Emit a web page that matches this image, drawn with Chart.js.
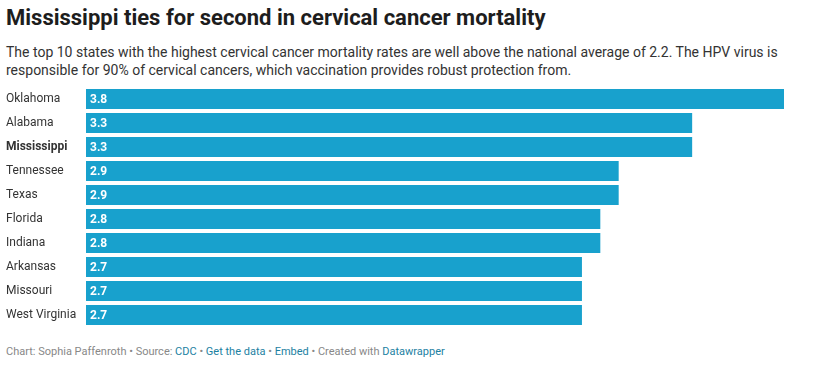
<!DOCTYPE html>
<html><head><meta charset="utf-8">
<script src="https://cdn.jsdelivr.net/npm/chart.js@4"></script>
<style>
html,body{margin:0;padding:0;background:#fff;width:835px;height:389px;overflow:hidden;font-family:Roboto,"Noto Sans",sans-serif;}
#title{position:absolute;left:6px;top:5px;font-size:22px;font-weight:700;color:#1d1d1d;white-space:nowrap;}
#sub{position:absolute;left:6px;top:43px;font-size:14px;line-height:18px;color:#333;width:800px;}
#wrap{position:absolute;left:0;top:87px;width:835px;height:240px;}
#foot{position:absolute;left:6px;top:345px;font-size:11px;color:#888;white-space:nowrap;}
#foot a{color:#1d81a2;text-decoration:none;}
</style></head><body>
<div id="title">Mississippi ties for second in cervical cancer mortality</div>
<div id="sub">The top 10 states with the highest cervical cancer mortality rates are well above the national average of 2.2. The HPV virus is responsible for 90% of cervical cancers, which vaccination provides robust protection from.</div>
<div id="wrap"><canvas id="c"></canvas></div>
<div id="foot">Chart: Sophia Paffenroth • Source: <a>CDC</a> • <a>Get the data</a> • <a>Embed</a> • Created with <a>Datawrapper</a></div>
<script>
const states = ["Oklahoma","Alabama","Mississippi","Tennessee","Texas","Florida","Indiana","Arkansas","Missouri","West Virginia"];
const rates = [3.8,3.3,3.3,2.9,2.9,2.8,2.8,2.7,2.7,2.7];
const highlighted = "Mississippi";

const valueLabels = {
  id:'valueLabels',
  afterDatasetsDraw(chart){
    const ctx = chart.ctx;
    const meta = chart.getDatasetMeta(0);
    ctx.save();
    ctx.fillStyle = '#fff';
    ctx.font = '700 12px Roboto';
    ctx.textBaseline = 'middle';
    ctx.textAlign = 'left';
    meta.data.forEach((bar,i)=>{
      ctx.fillText(rates[i].toFixed(1), bar.base + 4, bar.y + 0.5);
    });
    ctx.restore();
  }
};

new Chart(document.getElementById('c'), {
  type:'bar',
  data:{labels:states, datasets:[{data:rates, backgroundColor:'#18a1cd', barPercentage:0.834, categoryPercentage:1}]},
  options:{
    indexAxis:'y', responsive:true, maintainAspectRatio:false, animation:false,
    layout:{padding:{left:6,right:51,top:0,bottom:0}},
    plugins:{legend:{display:false}, tooltip:{enabled:false}},
    scales:{
      x:{display:false, min:0, max:3.8},
      y:{
        grid:{display:false}, border:{display:false},
        afterFit(s){ s.width = 80; s.paddingTop = 0; s.paddingBottom = 0; },
        ticks:{crossAlign:'far', padding:0, color:'#333',
          font:(c)=>({family:'Roboto', size:12, weight: states[c.index]===highlighted ? '700' : '400'})}
      }
    }
  },
  plugins:[valueLabels]
});
</script>
</body></html>
